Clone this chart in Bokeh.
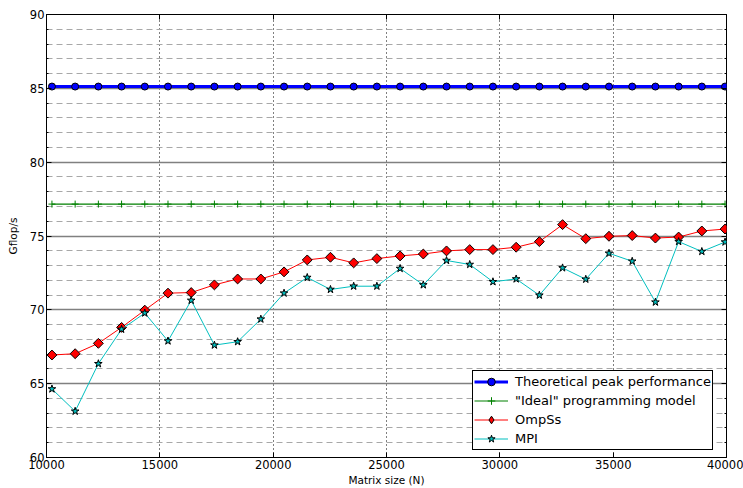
from bokeh.plotting import figure
from bokeh.models import (Range1d, SingleIntervalTicker, LinearAxis, Legend, LegendItem,
                          BasicTickFormatter, CustomJSTickFormatter, ColumnDataSource)
from bokeh.embed import file_html
from bokeh.resources import INLINE

# Matrix sizes (N) used in the benchmark runs
matrix_sizes = [10240, 11264, 12288, 13312, 14336, 15360, 16384, 17408, 18432, 19456,
                20480, 21504, 22528, 23552, 24576, 25600, 26624, 27648, 28672, 29696,
                30720, 31744, 32768, 33792, 34816, 35840, 36864, 37888, 38912, 39936]

theoretical_peak = [85.12] * len(matrix_sizes)
ideal_model = [77.16] * len(matrix_sizes)

ompss = [66.94, 67.03, 67.73, 68.81, 69.98, 71.13, 71.17, 71.69, 72.09, 72.09,
         72.57, 73.38, 73.56, 73.18, 73.47, 73.65, 73.78, 73.99, 74.08, 74.08,
         74.24, 74.62, 75.77, 74.82, 74.98, 75.03, 74.86, 74.93, 75.34, 75.47]

mpi = [64.64, 63.13, 66.35, 68.68, 69.78, 67.89, 70.64, 67.61, 67.84, 69.37,
       71.13, 72.19, 71.38, 71.60, 71.60, 72.80, 71.69, 73.34, 73.07, 71.90,
       72.09, 70.99, 72.84, 72.07, 73.83, 73.29, 70.52, 74.62, 73.95, 74.59]

labels = ["Theoretical peak performance", '"Ideal" programming model', "OmpSs", "MPI"]

FONT = "DejaVu Sans"

p = figure(width=743, height=488, output_backend="svg", toolbar_location=None,
           x_range=Range1d(10000, 40000), y_range=Range1d(60, 90),
           min_border_left=46, min_border_right=17, min_border_top=14, min_border_bottom=29,
           background_fill_color="white", border_fill_color="white")

p.outline_line_color = "black"
p.outline_line_width = 1
p.outline_line_alpha = 1

# axes
p.xaxis.ticker = SingleIntervalTicker(interval=5000, num_minor_ticks=0)
p.xaxis.formatter = BasicTickFormatter(use_scientific=False)
p.yaxis.ticker = SingleIntervalTicker(interval=5, num_minor_ticks=5)

for ax in (p.xaxis[0], p.yaxis[0]):
    ax.axis_line_color = "black"
    ax.major_tick_in = 5
    ax.major_tick_out = 0
    ax.minor_tick_in = 2
    ax.minor_tick_out = 0
    ax.major_label_text_font = FONT
    ax.major_label_text_font_size = "11.5px"
    ax.major_label_text_color = "black"
    ax.major_label_standoff = 2
    ax.axis_label_text_font = FONT
    ax.axis_label_text_font_size = "10.5px"
    ax.axis_label_text_font_style = "normal"
    ax.axis_label_text_color = "black"

p.xaxis.axis_label = "Matrix size (N)"
p.xaxis.axis_label_standoff = 2
p.yaxis.axis_label = "Gflop/s"
p.yaxis.axis_label_standoff = 8

# mirrored ticks on the top and right spines, without labels
blank = CustomJSTickFormatter(code="return ''")
top_axis = LinearAxis(ticker=SingleIntervalTicker(interval=5000, num_minor_ticks=0),
                      formatter=blank, major_tick_in=5, major_tick_out=0,
                      minor_tick_in=0, minor_tick_out=0, axis_line_color=None,
                      major_label_standoff=0, major_label_text_font_size="1px")
right_axis = LinearAxis(ticker=SingleIntervalTicker(interval=5, num_minor_ticks=5),
                        formatter=blank, major_tick_in=5, major_tick_out=0,
                        minor_tick_in=2, minor_tick_out=0, axis_line_color=None,
                        major_label_standoff=0, major_label_text_font_size="1px")
p.add_layout(top_axis, "above")
p.add_layout(right_axis, "right")

# grid
p.ygrid.grid_line_color = "#808080"
p.ygrid.grid_line_width = 1.3
p.ygrid.minor_grid_line_color = "#a8a8a8"
p.ygrid.minor_grid_line_width = 1.2
p.ygrid.minor_grid_line_dash = "6 4"
p.xgrid.grid_line_color = "black"
p.xgrid.grid_line_width = 1
p.xgrid.grid_line_dash = "1 3"

# series
peak_line = p.line(matrix_sizes, theoretical_peak, line_color="#0000ff", line_width=3)
peak_pts = p.scatter(matrix_sizes, theoretical_peak, marker="circle", size=7,
                     fill_color="#0000ff", line_color="black", line_width=1)

ideal_line = p.line(matrix_sizes, ideal_model, line_color="#008000", line_width=1.2)
ideal_pts = p.scatter(matrix_sizes, ideal_model, marker="cross", size=7,
                      line_color="#008000", line_width=1)

ompss_line = p.line(matrix_sizes, ompss, line_color="#ff0000", line_width=1)
ompss_pts = p.scatter(matrix_sizes, ompss, marker="square", angle=45,
                      angle_units="deg", size=7, fill_color="#ff0000",
                      line_color="black", line_width=1)
# diamond swatch used only by the legend entry (an undefined point is never plotted)
ompss_key_src = ColumnDataSource(data=dict(x=[matrix_sizes[0]], y=[float("nan")]))
ompss_key = p.scatter("x", "y", source=ompss_key_src, marker="diamond", size=12,
                      fill_color="#ff0000", line_color="black", line_width=1)

mpi_line = p.line(matrix_sizes, mpi, line_color="#00bfbf", line_width=1)
mpi_pts = p.scatter(matrix_sizes, mpi, marker="star", size=8,
                    fill_color="#00bfbf", line_color="black", line_width=1)

legend = Legend(items=[
    LegendItem(label=labels[0], renderers=[peak_line, peak_pts]),
    LegendItem(label=labels[1], renderers=[ideal_line, ideal_pts]),
    LegendItem(label=labels[2], renderers=[ompss_line, ompss_key]),
    LegendItem(label=labels[3], renderers=[mpi_line, mpi_pts]),
], location=(426, 7))
legend.label_text_font = FONT
legend.label_text_font_size = "13px"
legend.label_text_color = "black"
legend.glyph_width = 34
legend.glyph_height = 19
legend.label_height = 19
legend.label_standoff = 7
legend.spacing = 0
legend.padding = 1
legend.margin = 0
legend.border_line_color = "black"
legend.border_line_width = 1
legend.border_line_alpha = 1
legend.background_fill_color = "white"
legend.background_fill_alpha = 1
p.add_layout(legend)

open("out.html", "w").write(file_html(p, INLINE))
